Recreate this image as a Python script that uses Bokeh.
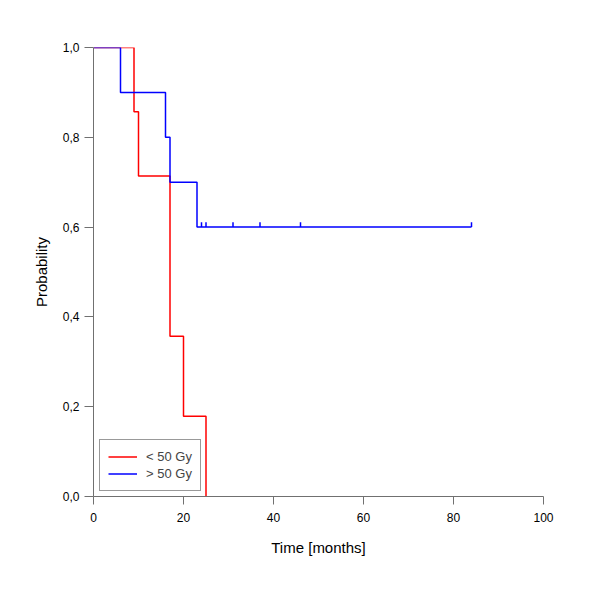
from bokeh.plotting import figure
from bokeh.models import Range1d, Legend, LegendItem, FixedTicker
from bokeh.embed import file_html
from bokeh.resources import INLINE

# Data
low_time = [0, 9, 10, 17, 20, 25]
low_surv = [1.0, 0.857, 0.714, 0.357, 0.179, 0.0]
high_time = [0, 6, 16, 17, 23, 84]
high_surv = [1.0, 0.9, 0.8, 0.7, 0.6, 0.6]
high_cens_time = [24, 25, 31, 37, 46, 84]
high_cens_surv = [0.6, 0.6, 0.6, 0.6, 0.6, 0.6]
x_ticks = [0, 20, 40, 60, 80, 100]
y_ticks = [0.0, 0.2, 0.4, 0.6, 0.8, 1.0]
y_tick_labels = ["0,0", "0,2", "0,4", "0,6", "0,8", "1,0"]
series_names = ["< 50 Gy", "> 50 Gy"]

FONT = "Liberation Sans"
AXIS_COLOR = "#707070"

p = figure(width=592, height=591, output_backend="svg", toolbar_location=None,
           x_range=Range1d(0, 100), y_range=Range1d(0, 1),
           min_border_left=93, min_border_right=49, min_border_top=47, min_border_bottom=95)
p.outline_line_color = None
p.xgrid.visible = False
p.ygrid.visible = False

r_low = p.step(low_time, low_surv, mode="after", line_color="#FF0000", line_width=1.5)
r_high = p.step(high_time, high_surv, mode="after", line_color="#0000FF", line_width=1.5)
tick_h = 0.011
p.segment(x0=high_cens_time, y0=high_cens_surv, x1=high_cens_time,
          y1=[v + tick_h for v in high_cens_surv], line_color="#0000FF", line_width=1.5)

for ax in (p.xaxis[0], p.yaxis[0]):
    ax.axis_line_color = AXIS_COLOR
    ax.major_tick_line_color = AXIS_COLOR
    ax.minor_tick_line_color = None
    ax.major_tick_in = 0
    ax.major_label_text_font = FONT
    ax.major_label_text_font_size = "12px"
    ax.major_label_text_color = "#000000"
    ax.axis_label_text_font = FONT
    ax.axis_label_text_font_size = "15px"
    ax.axis_label_text_font_style = "normal"
    ax.axis_label_text_color = "#000000"

p.xaxis[0].ticker = FixedTicker(ticks=x_ticks)
p.xaxis[0].major_tick_out = 8
p.xaxis[0].major_label_standoff = 8
p.xaxis[0].axis_label = "Time [months]"
p.xaxis[0].axis_label_standoff = 14

p.yaxis[0].ticker = FixedTicker(ticks=y_ticks)
p.yaxis[0].major_label_overrides = {t: l for t, l in zip(y_ticks, y_tick_labels)}
p.yaxis[0].major_tick_out = 9
p.yaxis[0].major_label_standoff = 5
p.yaxis[0].axis_label = "Probability"
p.yaxis[0].axis_label_standoff = 10

legend = Legend(items=[LegendItem(label=series_names[0], renderers=[r_low]),
                       LegendItem(label=series_names[1], renderers=[r_high])],
                location=(6, 5), margin=0, padding=8, spacing=0,
                glyph_width=29, glyph_height=17, label_height=17, label_standoff=9,
                label_text_font=FONT, label_text_font_size="13px",
                border_line_color="#333333", border_line_width=1,
                background_fill_color="white", background_fill_alpha=1)
p.add_layout(legend, "center")

open("out.html", "w").write(file_html(p, INLINE))
